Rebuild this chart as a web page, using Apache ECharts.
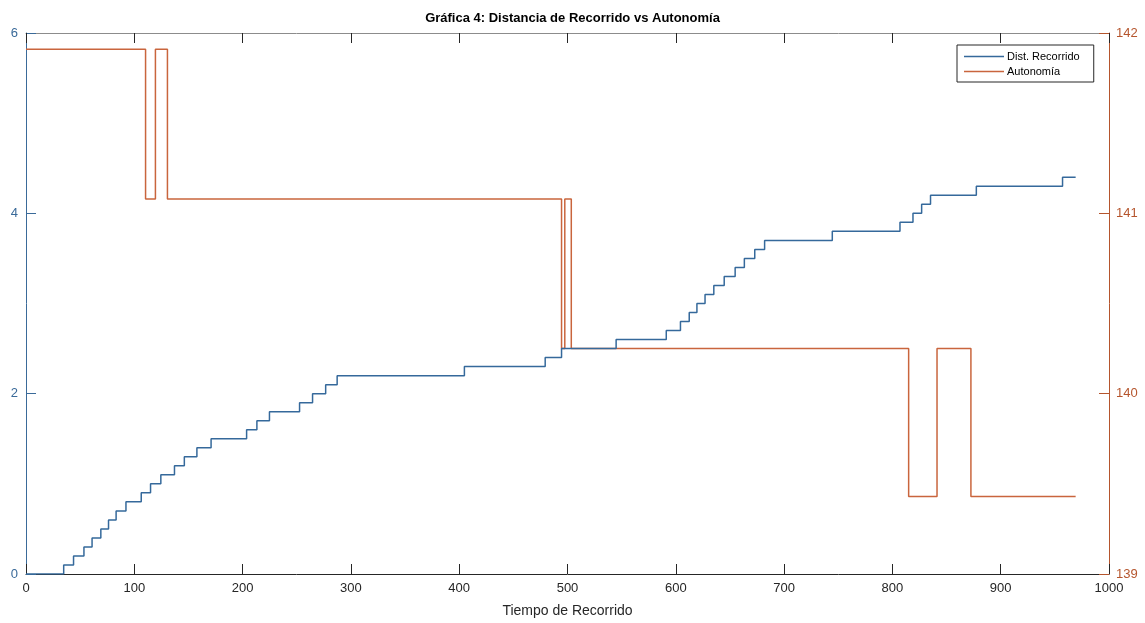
<!DOCTYPE html>
<html>
<head>
<meta charset="utf-8">
<title>Gráfica 4</title>
<script src="https://cdn.jsdelivr.net/npm/echarts@6/dist/echarts.min.js"></script>
<style>
  html, body { margin: 0; padding: 0; background: #ffffff; }
  #chart { width: 1145px; height: 623px; }
</style>
</head>
<body>
<div id="chart"></div>
<script>
// Distancia recorrida: instante de cada cambio y nuevo valor
const distTimes = [0, 34.8, 43.9, 53.5, 61, 69.1, 76.2, 83.2, 92.3, 106.4, 115, 124.5, 137.1, 146.2, 157.8, 170.9,
  203.7, 213.2, 224.8, 252.6, 264.6, 276.7, 287.3, 404.8, 479.4, 494.5, 544.9, 591.2, 604.3, 612.4, 619.5, 627,
  635.1, 644.7, 654.8, 663.3, 672.9, 682, 744.5, 807, 819, 827, 835.2, 877.5, 957.1, 969.2];
const distValues = [0, 0.1, 0.2, 0.3, 0.4, 0.5, 0.6, 0.7, 0.8, 0.9, 1.0, 1.1, 1.2, 1.3, 1.4, 1.5,
  1.6, 1.7, 1.8, 1.9, 2.0, 2.1, 2.2, 2.3, 2.4, 2.5, 2.6, 2.7, 2.8, 2.9, 3.0, 3.1,
  3.2, 3.3, 3.4, 3.5, 3.6, 3.7, 3.8, 3.9, 4.0, 4.1, 4.2, 4.3, 4.4, 4.4];

// Autonomía: instante de cada cambio y nuevo valor
const autTimes = [0, 110.4, 119.5, 130.6, 494.5, 497.5, 503.5, 815, 841.2, 872.5, 969.2];
const autValues = [141.91, 141.08, 141.91, 141.08, 140.25, 141.08, 140.25, 139.43, 140.25, 139.43, 139.43];

const xTicks = [0, 100, 200, 300, 400, 500, 600, 700, 800, 900, 1000];
const leftTicks = [0, 2, 4, 6];
const rightTicks = [139, 140, 141, 142];

const FONT = 'Liberation Sans, Arial, Helvetica, sans-serif';
const BLUE = '#35699b';
const ORANGE = '#c9653d';
const LEFT_AXIS = '#3a6a99';
const RIGHT_AXIS = '#b5552d';
// thin horizontal bar used as the legend key (line only, no marker)
const LINE_KEY = 'path://M0,0 L40,0 L40,1.5 L0,1.5 Z';

const pair = (xs, ys) => xs.map((x, i) => [x, ys[i]]);

const chart = echarts.init(document.getElementById('chart'), null, { renderer: 'canvas' });

chart.setOption({
  backgroundColor: '#ffffff',
  animation: false,
  textStyle: { fontFamily: FONT },
  title: {
    text: 'Gráfica 4: Distancia de Recorrido vs Autonomía',
    left: 'center',
    top: 12,
    padding: 0,
    textStyle: { fontFamily: FONT, fontSize: 13, fontWeight: 'bold', color: '#000000' }
  },
  legend: {
    data: [
      { name: 'Dist. Recorrido', icon: LINE_KEY },
      { name: 'Autonomía', icon: LINE_KEY }
    ],
    orient: 'vertical',
    left: 957,
    top: 45,
    padding: [6, 14, 5, 7],
    itemWidth: 40,
    itemHeight: 12,
    itemGap: 4,
    symbolKeepAspect: true,
    backgroundColor: '#ffffff',
    borderColor: '#262626',
    borderWidth: 1,
    borderRadius: 0,
    textStyle: { fontFamily: FONT, fontSize: 11, color: '#000000', padding: [0, 0, 0, -2] }
  },
  grid: { left: 26, right: 36, top: 33, bottom: 49, containLabel: false, outerBoundsMode: 'none' },
  xAxis: [
    {
      type: 'value',
      min: xTicks[0],
      max: xTicks[xTicks.length - 1],
      interval: 100,
      position: 'bottom',
      name: 'Tiempo de Recorrido',
      nameLocation: 'middle',
      nameGap: 30,
      nameTextStyle: { fontFamily: FONT, fontSize: 14, color: '#262626' },
      axisLine: { show: true, onZero: false, lineStyle: { color: '#262626', width: 1 } },
      axisTick: { show: true, inside: true, length: 10, lineStyle: { color: '#262626' } },
      axisLabel: { fontFamily: FONT, fontSize: 13, color: '#262626', margin: 8, formatter: v => String(v) },
      splitLine: { show: false }
    },
    {
      type: 'value',
      min: xTicks[0],
      max: xTicks[xTicks.length - 1],
      interval: 100,
      position: 'top',
      axisLine: { show: true, onZero: false, lineStyle: { color: '#8c8c8c', width: 1 } },
      axisTick: { show: true, inside: true, length: 10, lineStyle: { color: '#262626' } },
      axisLabel: { show: false },
      splitLine: { show: false }
    }
  ],
  yAxis: [
    {
      type: 'value',
      min: leftTicks[0],
      max: leftTicks[leftTicks.length - 1],
      interval: 2,
      position: 'left',
      axisLine: { show: true, onZero: false, lineStyle: { color: LEFT_AXIS, width: 1 } },
      axisTick: { show: true, inside: true, length: 10, lineStyle: { color: LEFT_AXIS } },
      axisLabel: { fontFamily: FONT, fontSize: 13, color: LEFT_AXIS, margin: 8 },
      splitLine: { show: false }
    },
    {
      type: 'value',
      min: rightTicks[0],
      max: rightTicks[rightTicks.length - 1],
      interval: 1,
      position: 'right',
      axisLine: { show: true, onZero: false, lineStyle: { color: RIGHT_AXIS, width: 1 } },
      axisTick: { show: true, inside: true, length: 10, lineStyle: { color: RIGHT_AXIS } },
      axisLabel: { fontFamily: FONT, fontSize: 13, color: RIGHT_AXIS, margin: 7 },
      splitLine: { show: false }
    }
  ],
  series: [
    {
      name: 'Dist. Recorrido',
      type: 'line',
      xAxisIndex: 0,
      yAxisIndex: 0,
      step: 'end',
      symbol: 'none',
      color: BLUE,
      lineStyle: { color: BLUE, width: 1.5 },
      data: pair(distTimes, distValues),
      z: 3
    },
    {
      name: 'Autonomía',
      type: 'line',
      xAxisIndex: 0,
      yAxisIndex: 1,
      step: 'end',
      symbol: 'none',
      color: ORANGE,
      lineStyle: { color: ORANGE, width: 1.5 },
      data: pair(autTimes, autValues),
      z: 2
    }
  ]
});
</script>
</body>
</html>
